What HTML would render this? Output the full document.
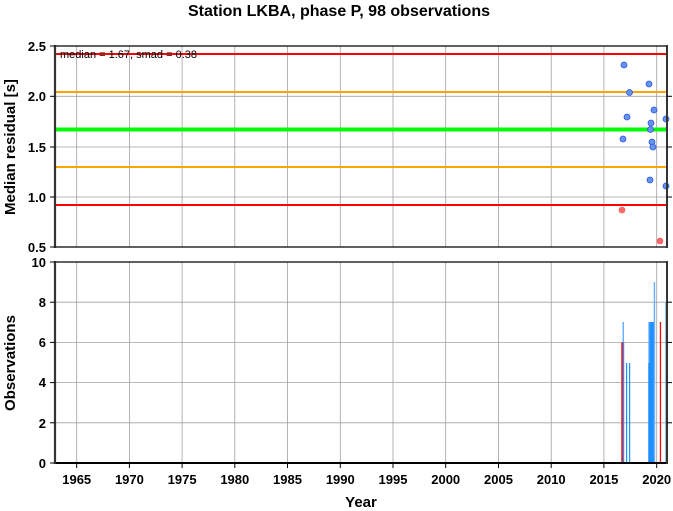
<!DOCTYPE html>
<html><head><meta charset="utf-8"><style>
html,body{margin:0;padding:0;background:#fff}
svg{display:block}
text{font-family:"Liberation Sans",Helvetica,sans-serif;font-weight:bold;fill:#000}
</style></head><body>
<svg width="673" height="511" viewBox="0 0 673 511" xmlns="http://www.w3.org/2000/svg">
<text x="339" y="16" font-size="16" text-anchor="middle">Station LKBA, phase P, 98 observations</text>
<!-- grids -->
<g stroke="#a0a0a0" stroke-width="0.8">
<line x1="76.7" y1="46" x2="76.7" y2="247"/><line x1="129.4" y1="46" x2="129.4" y2="247"/><line x1="182.1" y1="46" x2="182.1" y2="247"/><line x1="234.8" y1="46" x2="234.8" y2="247"/><line x1="287.5" y1="46" x2="287.5" y2="247"/><line x1="340.3" y1="46" x2="340.3" y2="247"/><line x1="393" y1="46" x2="393" y2="247"/><line x1="445.7" y1="46" x2="445.7" y2="247"/><line x1="498.5" y1="46" x2="498.5" y2="247"/><line x1="551.2" y1="46" x2="551.2" y2="247"/><line x1="603.9" y1="46" x2="603.9" y2="247"/><line x1="656.7" y1="46" x2="656.7" y2="247"/>
<line x1="55" y1="96.3" x2="667" y2="96.3"/><line x1="55" y1="147" x2="667" y2="147"/><line x1="55" y1="197" x2="667" y2="197"/>
<line x1="76.7" y1="262" x2="76.7" y2="463"/><line x1="129.4" y1="262" x2="129.4" y2="463"/><line x1="182.1" y1="262" x2="182.1" y2="463"/><line x1="234.8" y1="262" x2="234.8" y2="463"/><line x1="287.5" y1="262" x2="287.5" y2="463"/><line x1="340.3" y1="262" x2="340.3" y2="463"/><line x1="393" y1="262" x2="393" y2="463"/><line x1="445.7" y1="262" x2="445.7" y2="463"/><line x1="498.5" y1="262" x2="498.5" y2="463"/><line x1="551.2" y1="262" x2="551.2" y2="463"/><line x1="603.9" y1="262" x2="603.9" y2="463"/><line x1="656.7" y1="262" x2="656.7" y2="463"/>
<line x1="55" y1="302.2" x2="667" y2="302.2"/><line x1="55" y1="342.4" x2="667" y2="342.4"/><line x1="55" y1="382.6" x2="667" y2="382.6"/><line x1="55" y1="422.8" x2="667" y2="422.8"/>
</g>
<!-- top panel lines -->
<line x1="55" y1="54" x2="667" y2="54" stroke="#ff0000" stroke-width="2"/>
<line x1="55" y1="92" x2="667" y2="92" stroke="#ffa500" stroke-width="2"/>
<line x1="55" y1="129.5" x2="667" y2="129.5" stroke="#00ff00" stroke-width="4"/>
<line x1="55" y1="167" x2="667" y2="167" stroke="#ffa500" stroke-width="2"/>
<line x1="55" y1="205" x2="667" y2="205" stroke="#ff0000" stroke-width="2"/>
<text x="60" y="58" font-size="11" font-weight="normal" style="font-weight:normal">median = 1.67, smad = 0.38</text>
<g fill="#6495ed" stroke="#3050e0" stroke-width="0.8">
<circle cx="624" cy="65" r="3"/><circle cx="649" cy="84" r="3"/><circle cx="629.5" cy="92.5" r="3"/><circle cx="654" cy="110" r="3"/><circle cx="627" cy="117" r="3"/><circle cx="651" cy="123" r="3"/><circle cx="650.5" cy="129.5" r="3"/><circle cx="623" cy="139" r="3"/><circle cx="652" cy="142" r="3"/><circle cx="653" cy="147" r="3"/><circle cx="650" cy="180" r="3"/><circle cx="666" cy="186" r="3"/><circle cx="666" cy="119" r="3"/>
</g>
<g fill="#ff6a6a" stroke="#ff5050" stroke-width="0.6">
<circle cx="622" cy="210" r="3"/><circle cx="660" cy="241" r="3"/>
</g>
<!-- bars -->
<rect x="622.5" y="322" width="1.5" height="141" fill="#6ab0ff"/>
<rect x="621.3" y="342.4" width="1.5" height="120.6" fill="#ff0000"/>
<rect x="623" y="342.4" width="1.2" height="120.6" fill="#1e90ff"/>
<rect x="626" y="363" width="1.2" height="100" fill="#1e90ff"/>
<rect x="629" y="363" width="1.2" height="100" fill="#1e90ff"/>
<rect x="648.3" y="322" width="6.7" height="141" fill="#6ab0ff"/>
<rect x="649.5" y="322" width="5" height="141" fill="#1e90ff"/>
<rect x="648.3" y="363" width="1.2" height="100" fill="#1e90ff"/>
<rect x="653.7" y="282" width="1.5" height="181" fill="#6ab0ff"/>
<rect x="659.8" y="322" width="1.3" height="141" fill="#ff0000"/>
<rect x="665.5" y="302.2" width="1.5" height="160.8" fill="#1e90ff"/>
<!-- frames -->
<g stroke="#000" fill="none">
<line x1="55" y1="46" x2="667" y2="46" stroke-width="1.2"/>
<line x1="55" y1="247" x2="667" y2="247" stroke-width="1.2"/>
<line x1="55" y1="45" x2="55" y2="248" stroke-width="2.2" stroke="#333"/>
<line x1="667" y1="45" x2="667" y2="248" stroke-width="2" stroke="#333"/>
<line x1="55" y1="262" x2="667" y2="262" stroke-width="1.2"/>
<line x1="55" y1="463" x2="667" y2="463" stroke-width="2"/>
<line x1="55" y1="261" x2="55" y2="464" stroke-width="2.2" stroke="#333"/>
<line x1="667" y1="261" x2="667" y2="464" stroke-width="2" stroke="#333"/>
</g>
<!-- ticks -->
<g stroke="#000" stroke-width="1">
<line x1="50" y1="46" x2="55" y2="46"/><line x1="50" y1="96.3" x2="55" y2="96.3"/><line x1="50" y1="147" x2="55" y2="147"/><line x1="50" y1="197" x2="55" y2="197"/><line x1="50" y1="247" x2="55" y2="247"/>
<line x1="667" y1="96.3" x2="672" y2="96.3"/><line x1="667" y1="147" x2="672" y2="147"/><line x1="667" y1="197" x2="672" y2="197"/>
<line x1="50" y1="262" x2="55" y2="262"/><line x1="50" y1="302.2" x2="55" y2="302.2"/><line x1="50" y1="342.4" x2="55" y2="342.4"/><line x1="50" y1="382.6" x2="55" y2="382.6"/><line x1="50" y1="422.8" x2="55" y2="422.8"/><line x1="50" y1="463" x2="55" y2="463"/>
<line x1="667" y1="302.2" x2="672" y2="302.2"/><line x1="667" y1="342.4" x2="672" y2="342.4"/><line x1="667" y1="382.6" x2="672" y2="382.6"/><line x1="667" y1="422.8" x2="672" y2="422.8"/>
<line x1="76.7" y1="463" x2="76.7" y2="468"/><line x1="129.4" y1="463" x2="129.4" y2="468"/><line x1="182.1" y1="463" x2="182.1" y2="468"/><line x1="234.8" y1="463" x2="234.8" y2="468"/><line x1="287.5" y1="463" x2="287.5" y2="468"/><line x1="340.3" y1="463" x2="340.3" y2="468"/><line x1="393" y1="463" x2="393" y2="468"/><line x1="445.7" y1="463" x2="445.7" y2="468"/><line x1="498.5" y1="463" x2="498.5" y2="468"/><line x1="551.2" y1="463" x2="551.2" y2="468"/><line x1="603.9" y1="463" x2="603.9" y2="468"/><line x1="656.7" y1="463" x2="656.7" y2="468"/>
</g>
<g font-size="13" text-anchor="end">
<text x="46" y="51">2.5</text><text x="46" y="101">2.0</text><text x="46" y="152">1.5</text><text x="46" y="202">1.0</text><text x="46" y="252">0.5</text>
<text x="46" y="267">10</text><text x="46" y="307">8</text><text x="46" y="347">6</text><text x="46" y="387">4</text><text x="46" y="428">2</text><text x="46" y="468">0</text>
</g>
<g font-size="13" text-anchor="middle">
<text x="76.7" y="484">1965</text><text x="129.4" y="484">1970</text><text x="182.1" y="484">1975</text><text x="234.8" y="484">1980</text><text x="287.5" y="484">1985</text><text x="340.3" y="484">1990</text><text x="393" y="484">1995</text><text x="445.7" y="484">2000</text><text x="498.5" y="484">2005</text><text x="551.2" y="484">2010</text><text x="603.9" y="484">2015</text><text x="656.7" y="484">2020</text>
</g>
<text x="361" y="507" font-size="15" text-anchor="middle">Year</text>
<text transform="translate(15,147) rotate(-90)" font-size="15" text-anchor="middle">Median residual [s]</text>
<text transform="translate(15,363) rotate(-90)" font-size="15" text-anchor="middle">Observations</text>
</svg>
</body></html>
